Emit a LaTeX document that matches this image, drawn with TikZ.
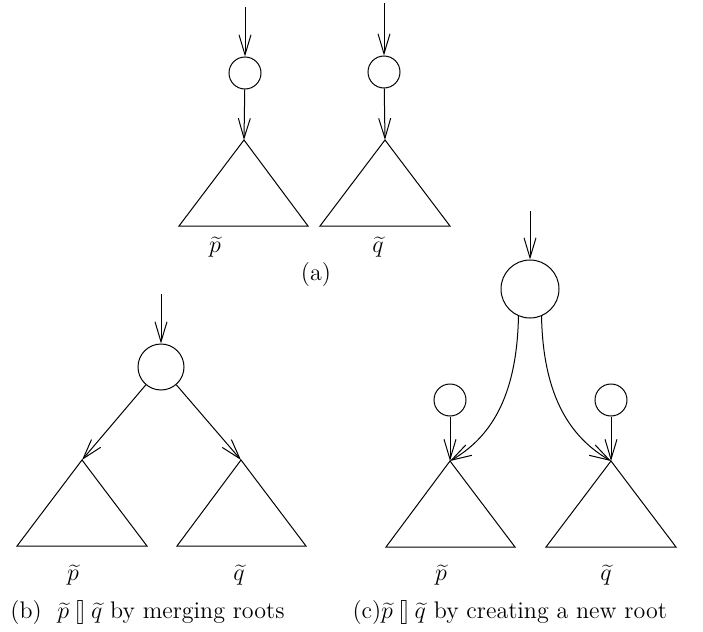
\documentclass[tikz,border=0pt]{standalone}
\usetikzlibrary{arrows.meta}

\tikzset{
  vtx/.style={draw, circle, inner sep=0pt, minimum size=#1},
  edge/.style={-{Straight Barb[length=10pt,width=6pt]}},
}

\begin{document}
\begin{tikzpicture}[x=0.5pt,y=-0.5pt,line width=0.5pt,
    every node/.style={font=\fontsize{12}{14}\selectfont}]
  \useasboundingbox (0,0) rectangle (703,632);

  % === (a) the two trees on their own ===
  \coordinate (ap0) at (245,7);
  \coordinate (aq0) at (384,3);
  \node[vtx=16pt] (ap) at (245,73) {};
  \node[vtx=16pt] (aq) at (384,72) {};
  \coordinate (apt) at (244,140);
  \coordinate (aqt) at (385,140);
  \draw (apt) -- ++(-65,86) -- ++(129,0) -- cycle;
  \draw (aqt) -- ++(-65,86) -- ++(130,0) -- cycle;
  \draw[edge] (ap0) -- (ap);
  \draw[edge] (aq0) -- (aq);
  \draw[edge] (ap) -- (apt);
  \draw[edge] (aq) -- (aqt);
  \node (aplbl) at (215,247) {$\widetilde{p}$};
  \node (aqlbl) at (378,247) {$\widetilde{q}$};
  \node (acap) at (316,275) {(a)};

  % === (b) merging roots ===
  \coordinate (b0) at (161,294);
  \node[vtx=23pt] (b) at (161,367) {};
  \coordinate (bpt) at (82,460);
  \coordinate (bqt) at (241,460);
  \draw (bpt) -- ++(-65,86) -- ++(130,0) -- cycle;
  \draw (bqt) -- ++(-64,86) -- ++(129,0) -- cycle;
  \draw[edge] (b0) -- (b);
  \draw[edge] (b) -- (bpt);
  \draw[edge] (b) -- (bqt);
  \node (bplbl) at (73,575) {$\widetilde{p}$};
  \node (bqlbl) at (239,575) {$\widetilde{q}$};
  \node[anchor=west, inner sep=0pt] (bcap) at (10,613)
    {(b)~~$\widetilde{p}\mathbin{[\mkern-1.5mu]}\widetilde{q}$ by merging roots};

  % === (c) creating a new root ===
  \coordinate (c0) at (530,211);
  \node[vtx=29pt] (c) at (530,289) {};
  \node[vtx=16pt] (cp) at (450,400) {};
  \node[vtx=16pt] (cq) at (611,400) {};
  \coordinate (cpt) at (450,461);
  \coordinate (cqt) at (611,461);
  \draw (cpt) -- ++(-64,86) -- ++(129,0) -- cycle;
  \draw (cqt) -- ++(-65,86) -- ++(130,0) -- cycle;
  \draw[edge] (c0) -- (c);
  \draw[edge] (cp) -- (cpt);
  \draw[edge] (cq) -- (cqt);
  \draw[edge] (c.-113) .. controls (517,390) and (495,435) .. (cpt);
  \draw[edge] (c.-67) .. controls (543,390) and (566,435) .. (cqt);
  \node (cplbl) at (441,575) {$\widetilde{p}$};
  \node (cqlbl) at (606,575) {$\widetilde{q}$};
  \node[anchor=west, inner sep=0pt] (ccap) at (352,613)
    {(c)$\widetilde{p}\mathbin{[\mkern-1.5mu]}\widetilde{q}$ by creating a new root};

\end{tikzpicture}
\end{document}
